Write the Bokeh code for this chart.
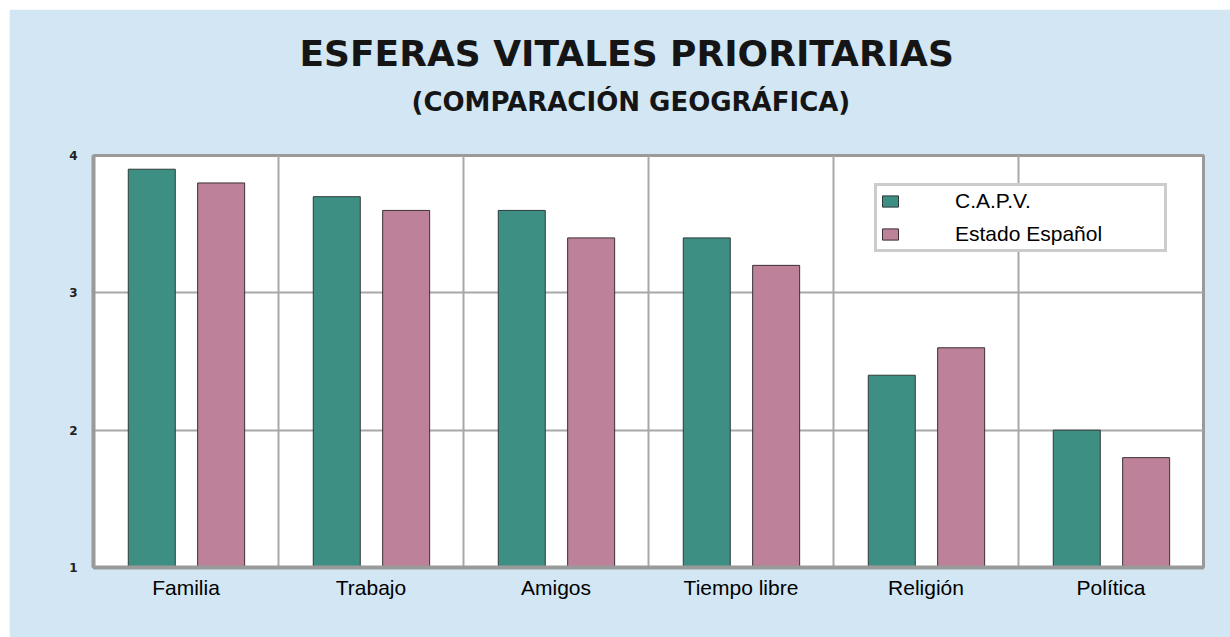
from bokeh.plotting import figure
from bokeh.models import ColumnDataSource, FixedTicker, Legend, LegendItem, Title, Range1d
from bokeh.transform import dodge
from bokeh.embed import file_html
from bokeh.resources import INLINE

categories = ["Familia", "Trabajo", "Amigos", "Tiempo libre", "Religión", "Política"]
capv = [3.9, 3.7, 3.6, 3.4, 2.4, 2.0]
espana = [3.8, 3.6, 3.4, 3.2, 2.6, 1.8]
y_ticks = [1, 2, 3, 4]
series_names = ["C.A.P.V.", "Estado Español"]
title_text = "ESFERAS VITALES PRIORITARIAS"
subtitle_text = "(COMPARACIÓN GEOGRÁFICA)"

BG = "#d2e6f4"
TEAL = "#3e8f83"
MAUVE = "#bd8199"
GRID = "#a8a8a8"
BORDER = "#9a9a9a"

n = len(categories)
centers = [i + 0.5 for i in range(n)]
src = ColumnDataSource(dict(x=centers, capv=capv, esp=espana))

p = figure(width=1221, height=628, x_range=Range1d(0, n), y_range=Range1d(1, 4),
           output_backend="svg", toolbar_location=None,
           min_border_left=84, min_border_right=27, min_border_top=146, min_border_bottom=70)
p.margin = (9, 0, 0, 9)
p.border_fill_color = BG
p.background_fill_color = "white"
p.outline_line_color = BORDER
p.outline_line_width = 3

r1 = p.vbar(x=dodge("x", -0.185, range=p.x_range), top="capv", bottom=1, width=0.254,
            source=src, fill_color=TEAL, line_color="#2f3a38", line_width=1)
r2 = p.vbar(x=dodge("x", 0.19, range=p.x_range), top="esp", bottom=1, width=0.254,
            source=src, fill_color=MAUVE, line_color="#3a3035", line_width=1)

# axes
p.xaxis.ticker = FixedTicker(ticks=centers)
p.xaxis.major_label_overrides = {c: lab for c, lab in zip(centers, categories)}
p.xaxis.major_label_text_font = "Liberation Sans"
p.xaxis.major_label_text_font_size = "21px"
p.xaxis.major_label_text_color = "black"
p.xaxis.major_label_standoff = 2
p.xaxis.major_tick_line_color = None
p.xaxis.minor_tick_line_color = None
p.xaxis.axis_line_color = BORDER
p.xaxis.axis_line_width = 4

p.yaxis.ticker = FixedTicker(ticks=y_ticks)
p.yaxis.major_label_text_font = "DejaVu Sans"
p.yaxis.major_label_text_font_style = "bold"
p.yaxis.major_label_text_font_size = "12px"
p.yaxis.major_label_text_color = "#222222"
p.yaxis.major_label_standoff = 10
p.yaxis.major_tick_line_color = None
p.yaxis.minor_tick_line_color = None
p.yaxis.axis_line_color = BORDER
p.yaxis.axis_line_width = 4

# grids
p.ygrid.ticker = FixedTicker(ticks=y_ticks)
p.ygrid.grid_line_color = GRID
p.ygrid.grid_line_width = 2
p.xgrid.ticker = FixedTicker(ticks=list(range(1, n)))
p.xgrid.grid_line_color = GRID
p.xgrid.grid_line_width = 2

# titles (added nearest-first): spacer, subtitle, title
p.add_layout(Title(text=" ", text_font_size="1px", standoff=36), "above")
p.add_layout(Title(text=subtitle_text, align="left", text_font="DejaVu Sans",
                   text_font_style="bold", text_font_size="26px", text_color="#151515",
                   standoff=0, offset=318), "above")
p.add_layout(Title(text=title_text, align="left", text_font="DejaVu Sans",
                   text_font_style="bold", text_font_size="36px", text_color="#151515",
                   standoff=22, offset=206), "above")

legend = Legend(items=[LegendItem(label=series_names[0], renderers=[r1]),
                       LegendItem(label=series_names[1], renderers=[r2])],
                location=(781, 315))
legend.border_line_color = BORDER
legend.border_line_width = 3
legend.background_fill_color = "white"
legend.background_fill_alpha = 1
legend.label_text_font = "Liberation Sans"
legend.label_text_font_size = "21px"
legend.label_text_color = "black"
legend.glyph_width = 20
legend.glyph_height = 14
legend.label_standoff = 55
legend.padding = 3
legend.spacing = 9
legend.label_height = 22
legend.label_width = 206
legend.margin = 0
p.add_layout(legend)

open("out.html", "w").write(file_html(p, INLINE))
